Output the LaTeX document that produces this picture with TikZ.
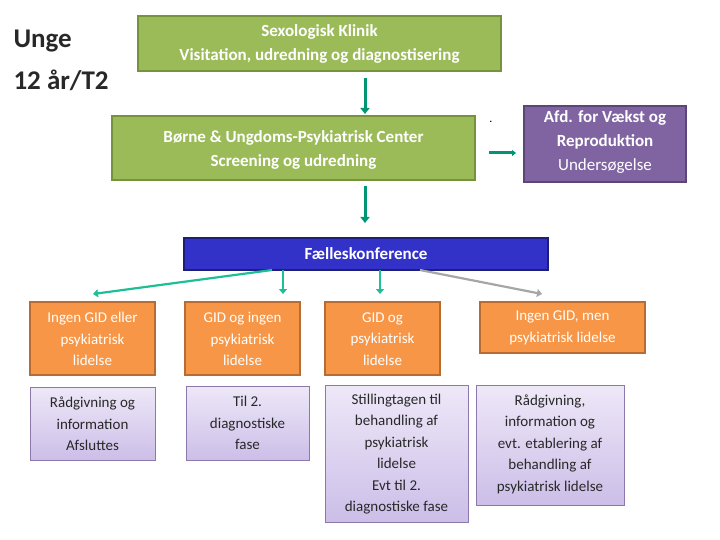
\documentclass[tikz,border=0pt]{standalone}
\usepackage{fontspec}
\setmainfont{Carlito}
\usetikzlibrary{arrows.meta}
\definecolor{gfill}{RGB}{155,187,89}
\definecolor{gdraw}{RGB}{118,146,60}
\definecolor{pfill}{RGB}{128,100,162}
\definecolor{pdraw}{RGB}{92,70,120}
\definecolor{bfill}{RGB}{50,50,200}
\definecolor{bdraw}{RGB}{30,30,120}
\definecolor{ofill}{RGB}{247,150,70}
\definecolor{odraw}{RGB}{182,108,50}
\definecolor{lavtop}{RGB}{238,232,248}
\definecolor{lavbot}{RGB}{204,190,232}
\definecolor{lavdraw}{RGB}{140,120,170}
\definecolor{teal}{RGB}{0,150,115}
\definecolor{tealb}{RGB}{30,190,150}
\definecolor{txt}{RGB}{40,40,40}
\begin{document}
\begin{tikzpicture}[x=1pt,y=-1pt,
 gbox/.style={draw=gdraw,line width=1.5pt,fill=gfill,text=white,font=\fontsize{17}{21}\selectfont\bfseries,align=center},
 obox/.style={draw=odraw,line width=1.5pt,fill=ofill,text=white,font=\fontsize{15}{21.5}\selectfont,align=center},
 lbox/.style={draw=lavdraw,line width=0.8pt,top color=lavtop,bottom color=lavbot,text=txt,font=\fontsize{15}{21.5}\selectfont,align=center},
 varr/.style={draw=teal,line width=3pt,-{Triangle[length=6pt,width=9pt]}},
 tarr/.style={draw=tealb,line width=2.2pt,-{Triangle[length=5pt,width=8pt]}},
 garr/.style={draw=gray!70,line width=2.2pt,-{Triangle[length=5pt,width=8pt]}}]
\useasboundingbox (0,0) rectangle (720,540);
\node[anchor=north west,align=left,text=txt,font=\fontsize{27}{42}\selectfont\bfseries] (title) at (10,26) {Unge\\12 år/T2};
\path[gbox] (138,16) rectangle (501,71);
\node[font=\fontsize{17}{24}\selectfont\bfseries,text=white,align=center] (sk) at (319.5,44) {Sexologisk Klinik\\Visitation, udredning og diagnostisering};
\path[gbox] (112,116) rectangle (475,180);
\node[font=\fontsize{17}{24}\selectfont\bfseries,text=white,align=center] (buc) at (293.5,150) {Børne \& Ungdoms-Psykiatrisk Center\\Screening og udredning};
\path[draw=pdraw,line width=1.5pt,fill=pfill] (524,106) rectangle (686,182);
\node[text=white,align=center,font=\fontsize{17}{24}\selectfont] (afd) at (605,142) {\textbf{Afd. for Vækst og}\\\textbf{Reproduktion}\\Undersøgelse};
\node[font=\fontsize{12}{12}\selectfont,text=black] (dot) at (491,122) {.};
\coordinate (a1) at (489,153); \coordinate (a2) at (516,153);
\draw[draw=teal,line width=3pt,-{Triangle[length=4pt,width=6pt]}] (a1) -- (a2);
\coordinate (s1) at (365,78); \coordinate (s2) at (365,114);
\coordinate (s3) at (365,186); \coordinate (s4) at (365,223);
\draw[varr] (s1) -- (s2);
\draw[varr] (s3) -- (s4);
\path[draw=bdraw,line width=1.5pt,fill=bfill] (184,238) rectangle (548,270);
\node[text=white,font=\fontsize{17}{20}\selectfont\bfseries] (fk) at (366,254) {Fælleskonference};
\path[obox] (30,302) rectangle (155,375);
\node[text=white,align=center,font=\fontsize{15}{21.5}\selectfont] (o1) at (92.5,339) {Ingen GID eller\\psykiatrisk\\lidelse};
\path[obox] (185,302) rectangle (300,375);
\node[text=white,align=center,font=\fontsize{15}{21.5}\selectfont] (o2) at (242.5,339) {GID og ingen\\psykiatrisk\\lidelse};
\path[obox] (325,302) rectangle (440,375);
\node[text=white,align=center,font=\fontsize{15}{21.5}\selectfont] (o3) at (382.5,339) {GID og\\psykiatrisk\\lidelse};
\path[obox] (480,302) rectangle (645,353);
\node[text=white,align=center,font=\fontsize{15}{21.5}\selectfont] (o4) at (562.5,328) {Ingen GID, men\\psykiatrisk lidelse};
\coordinate (f1) at (272,270); \coordinate (t1) at (93,294);
\coordinate (f2) at (283,270); \coordinate (t2) at (283,294);
\coordinate (f3) at (380,270); \coordinate (t3) at (380,294);
\coordinate (f4) at (420,270); \coordinate (t4) at (542,294);
\draw[tarr] (f1) -- (t1);
\draw[tarr] (f2) -- (t2);
\draw[tarr] (f3) -- (t3);
\draw[garr] (f4) -- (t4);
\path[lbox] (30,387) rectangle (155,460);
\node[text=txt,align=center,font=\fontsize{15}{21.5}\selectfont] (l1) at (92.5,424) {Rådgivning og\\information\\Afsluttes};
\path[lbox] (186,386) rectangle (309,460);
\node[text=txt,align=center,font=\fontsize{15}{21.5}\selectfont] (l2) at (247.5,423) {Til 2.\\diagnostiske\\fase};
\path[lbox] (325,385) rectangle (468,522);
\node[text=txt,align=center,font=\fontsize{15}{21.5}\selectfont] (l3) at (396.5,454) {Stillingtagen til\\behandling af\\psykiatrisk\\lidelse\\Evt til 2.\\diagnostiske fase};
\path[lbox] (476,385) rectangle (624,505);
\node[text=txt,align=center,font=\fontsize{15}{21.5}\selectfont] (l4) at (550,444) {Rådgivning,\\information og\\evt. etablering af\\behandling af\\psykiatrisk lidelse};
\end{tikzpicture}
\end{document}
